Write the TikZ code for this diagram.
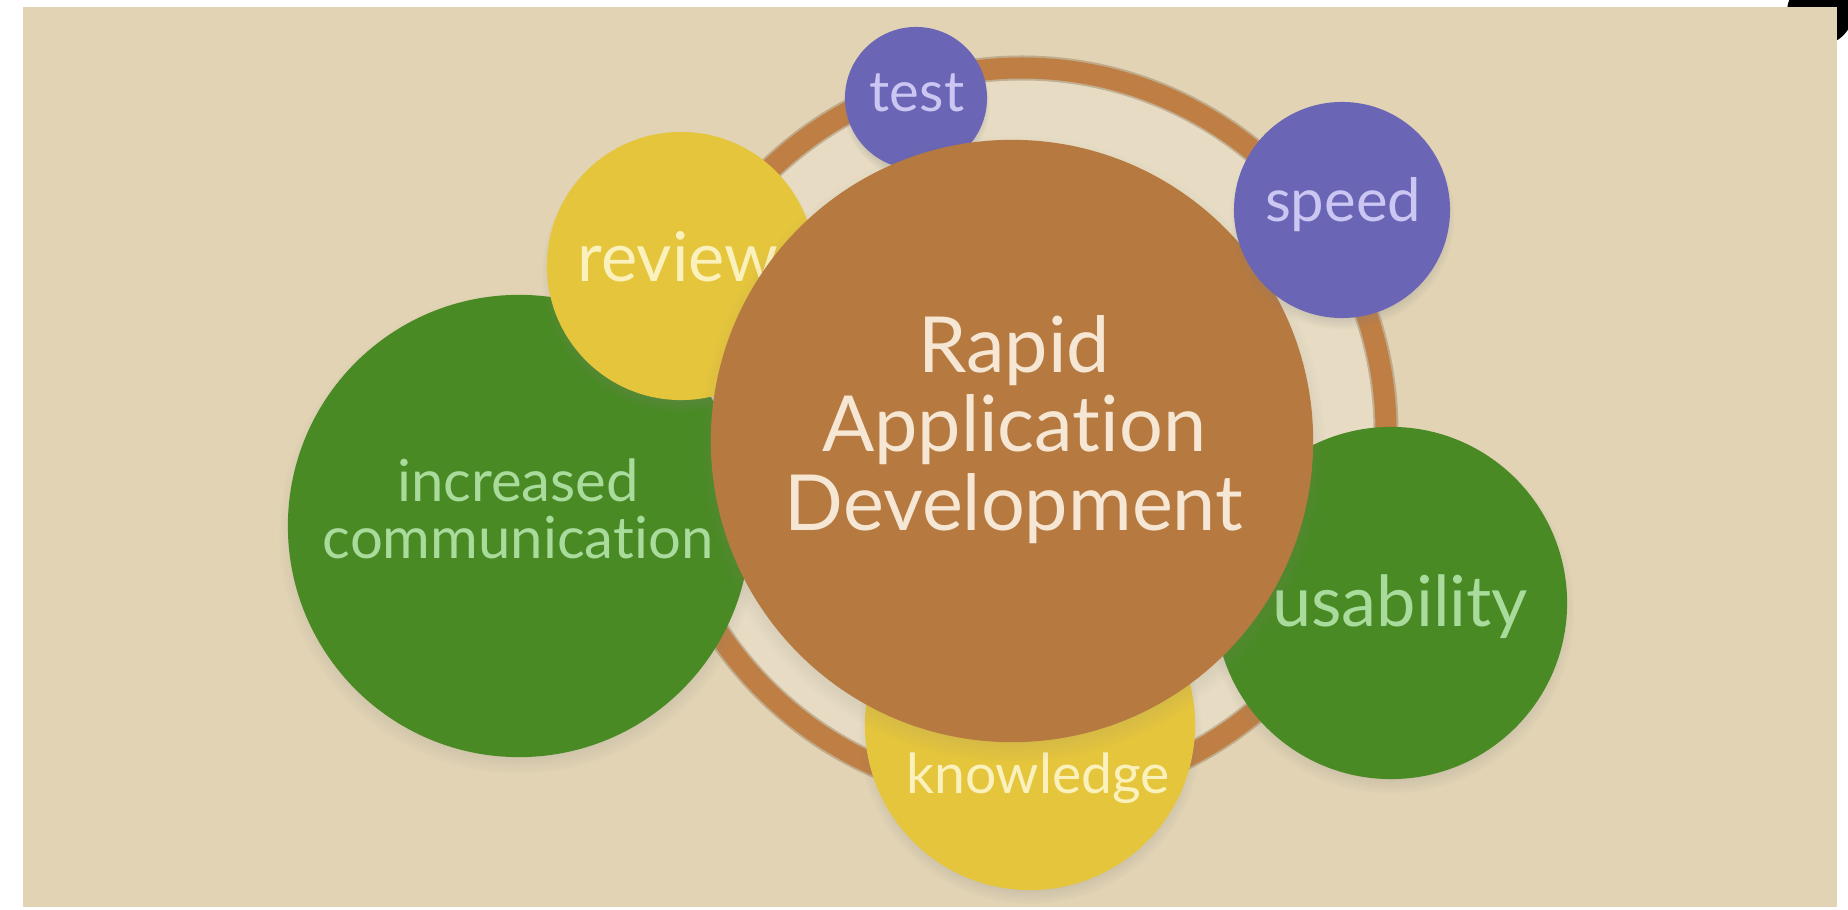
\documentclass[tikz,border=0pt]{standalone}
\usepackage{xcolor}
\usepackage{fontspec}
\setmainfont{Lato}[Ligatures={NoCommon,NoRare}]
\usepackage{tikz}
\usetikzlibrary{shadows}
\definecolor{paper}{HTML}{E1D3B4}
\definecolor{paperlight}{HTML}{E7DCC3}
\definecolor{rust}{HTML}{B67940}
\definecolor{ringbrown}{HTML}{BF7E43}
\definecolor{leaf}{HTML}{4A8A24}
\definecolor{mustard}{HTML}{E5C53C}
\definecolor{violet}{HTML}{6A65B5}
\definecolor{rusttext}{HTML}{F6E7D4}
\definecolor{leaftext}{HTML}{A9DB9C}
\definecolor{mustardtext}{HTML}{FBF1BC}
\definecolor{violettext}{HTML}{CBC7F2}

\begin{document}
\begin{tikzpicture}[x=0.01cm,y=-0.01cm,
        disc/.style={circle,inner sep=0pt,minimum size=#1,
            circular drop shadow={shadow xshift=0pt,shadow yshift=-2pt,shadow scale=1.04,opacity=.35}},
        word/.style={inner sep=0pt,align=center,text=#1}]
    \useasboundingbox (0,0) rectangle (1848,910);
    \fill[black] (1820,12) circle (33);
    \fill[paper] (23,7) rectangle (1837,907);
    \coordinate (hub) at (1022,432);
    \fill[paperlight] (hub) circle (353);
    \draw[brown!60!black,opacity=.3,line width=0.25cm] (hub) circle (364);
    \draw[ringbrown,line width=0.21cm] (hub) circle (364);
    \node[disc=4.62cm,fill=leaf] (comm) at (519,526) {};
    \node[word=leaftext,font=\fontsize{16.5}{16}\selectfont] (commtxt) at (518,509) {increased\\communication};
    \node[disc=2.68cm,fill=mustard] (review) at (681,266) {};
    \node[word=mustardtext,font=\fontsize{19.5}{24}\selectfont] (reviewtxt) at (678,257) {review};
    \node[disc=1.42cm,fill=violet] (test) at (916,98) {};
    \node[word=violettext,font=\fontsize{16}{18}\selectfont] (testtxt) at (917,93) {test};
    \node[disc=3.30cm,fill=mustard] (know) at (1030,725) {};
    \node[word=mustardtext,font=\fontsize{15.7}{18}\selectfont] (knowtxt) at (1038,778) {knowledge};
    \node[disc=3.52cm,fill=leaf] (usab) at (1391,603) {};
    \node[word=leaftext,font=\fontsize{20}{24}\selectfont] (usabtxt) at (1400,607) {usability};
    \node[disc=6.02cm,fill=rust] (rad) at (1012,441) {};
    \node[word=rusttext,font=\fontsize{22}{22.5}\selectfont] (radtxt) at (1014,430) {Rapid\\Application\\Development};
    \node[disc=2.16cm,fill=violet] (speed) at (1342,210) {};
    \node[word=violettext,font=\fontsize{17}{18}\selectfont] (speedtxt) at (1343,205) {speed};
\end{tikzpicture}
\end{document}
